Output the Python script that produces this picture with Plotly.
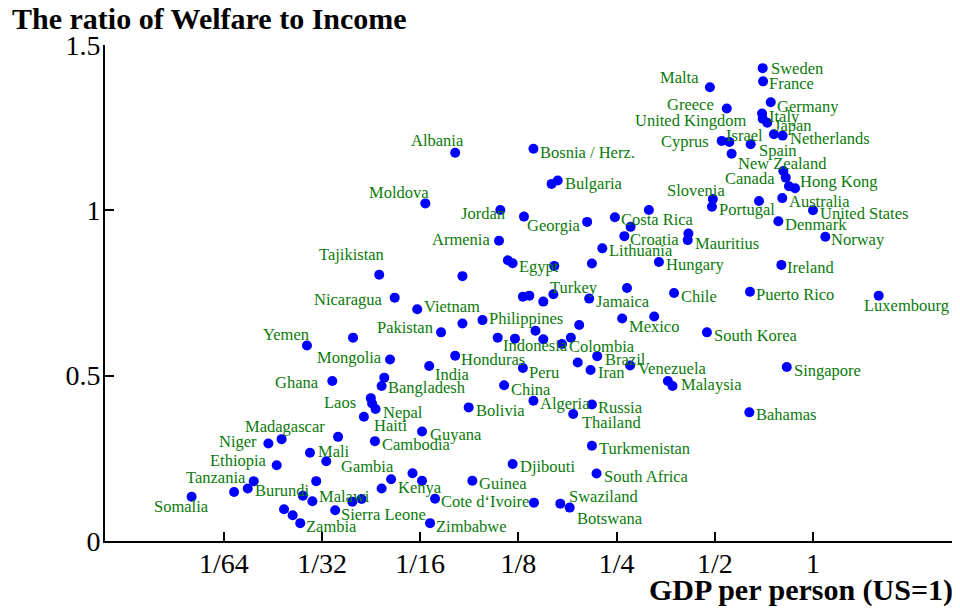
import numpy as np
import plotly.graph_objects as go

# GDP per person relative to US (US = 1), ratio of welfare to income, label ("" = unlabeled)
countries = [
    "Sweden", "France", "Malta", "Greece", "Germany", "Italy", "United Kingdom", "Japan",
    "Israel", "Netherlands", "Cyprus", "", "Spain", "New Zealand", "", "Canada",
    "Hong Kong", "", "Australia", "", "Slovenia", "Portugal", "United States", "Denmark",
    "Norway", "Ireland", "Puerto Rico", "Luxembourg", "South Korea", "Singapore", "Bahamas", "Malaysia",
    "", "Mauritius", "", "Chile", "Hungary", "", "Costa Rica", "",
    "Croatia", "Lithuania", "Georgia", "", "Jordan", "Moldova", "Albania", "Bosnia / Herz.",
    "Bulgaria", "", "Armenia", "", "Egypt", "", "", "Tajikistan",
    "", "Nicaragua", "Vietnam", "", "", "", "Turkey", "Jamaica",
    "", "", "Mexico", "", "Philippines", "", "Pakistan", "",
    "Yemen", "Indonesia", "", "", "", "Colombia", "", "Brazil",
    "", "Iran", "Venezuela", "Peru", "Honduras", "India", "Mongolia", "",
    "Bangladesh", "Ghana", "China", "Algeria", "Russia", "Thailand", "Bolivia", "Laos",
    "", "Nepal", "Haiti", "Guyana", "Cambodia", "", "Madagascar", "Niger",
    "Mali", "Gambia", "Ethiopia", "Turkmenistan", "Djibouti", "South Africa", "Guinea", "Kenya",
    "", "", "", "", "Tanzania", "Burundi", "", "Somalia",
    "", "Malawi", "", "", "Sierra Leone", "", "", "Zambia",
    "Cote d\u2018Ivoire", "", "Swaziland", "Botswana", "Zimbabwe",
]

gdp_per_person = [
    0.701, 0.703, 0.483, 0.544, 0.742, 0.698, 0.701, 0.724,
    0.759, 0.807, 0.525, 0.554, 0.644, 0.563, 0.811, 0.825,
    0.844, 0.881, 0.805, 0.683, 0.493, 0.490, 1.000, 0.783,
    1.091, 0.800, 0.641, 1.590, 0.473, 0.831, 0.638, 0.371,
    0.359, 0.413, 0.415, 0.375, 0.337, 0.314, 0.247, 0.276,
    0.264, 0.226, 0.203, 0.130, 0.110, 0.0648, 0.0800, 0.139,
    0.165, 0.158, 0.109, 0.116, 0.120, 0.161, 0.210, 0.0468,
    0.0842, 0.0522, 0.0612, 0.129, 0.135, 0.149, 0.160, 0.206,
    0.269, 0.260, 0.326, 0.192, 0.0970, 0.0842, 0.0724, 0.0389,
    0.0281, 0.108, 0.122, 0.141, 0.149, 0.170, 0.181, 0.218,
    0.190, 0.208, 0.275, 0.129, 0.0800, 0.0666, 0.0505, 0.0485,
    0.0476, 0.0336, 0.113, 0.139, 0.210, 0.184, 0.0880, 0.0441,
    0.0445, 0.0456, 0.0420, 0.0633, 0.0454, 0.0350, 0.0235, 0.0214,
    0.0287, 0.0322, 0.0227, 0.210, 0.120, 0.217, 0.0903, 0.0509,
    0.0592, 0.0633, 0.0476, 0.0300, 0.0193, 0.0185, 0.0168, 0.01245,
    0.0273, 0.0292, 0.0387, 0.0413, 0.0343, 0.0239, 0.0254, 0.0268,
    0.0694, 0.1395, 0.168, 0.1795, 0.0670,
]

welfare_ratio = [
    1.430, 1.390, 1.372, 1.308, 1.327, 1.293, 1.277, 1.265,
    1.230, 1.226, 1.210, 1.207, 1.200, 1.171, 1.119, 1.099,
    1.073, 1.067, 1.037, 1.028, 1.034, 1.011, 1.000, 0.967,
    0.920, 0.835, 0.754, 0.742, 0.631, 0.526, 0.389, 0.469,
    0.484, 0.910, 0.930, 0.750, 0.844, 1.001, 0.979, 0.950,
    0.922, 0.885, 0.965, 0.981, 1.001, 1.021, 1.174, 1.186,
    1.090, 1.080, 0.908, 0.849, 0.840, 0.832, 0.839, 0.805,
    0.801, 0.736, 0.701, 0.739, 0.742, 0.724, 0.746, 0.733,
    0.765, 0.673, 0.679, 0.653, 0.668, 0.658, 0.631, 0.615,
    0.591, 0.615, 0.612, 0.636, 0.610, 0.596, 0.615, 0.559,
    0.540, 0.517, 0.531, 0.523, 0.560, 0.529, 0.549, 0.494,
    0.469, 0.484, 0.471, 0.424, 0.413, 0.384, 0.404, 0.432,
    0.416, 0.399, 0.376, 0.331, 0.302, 0.315, 0.308, 0.295,
    0.267, 0.241, 0.229, 0.288, 0.233, 0.204, 0.182, 0.187,
    0.205, 0.182, 0.159, 0.181, 0.181, 0.159, 0.148, 0.134,
    0.137, 0.120, 0.119, 0.127, 0.093, 0.096, 0.078, 0.054,
    0.128, 0.116, 0.113, 0.101, 0.054,
]

x_tick_values = [1/64, 1/32, 1/16, 1/8, 1/4, 1/2, 1]
x_tick_labels = ["1/64", "1/32", "1/16", "1/8", "1/4", "1/2", "1"]
y_tick_values = [0, 0.5, 1, 1.5]
y_tick_labels = ["0", "0.5", "1", "1.5"]

# label placement style: (anchor side, x offset px, y offset px downward)
label_style = {
    "Sweden": ("left", 7, 0), "France": ("left", 5, 2), "Malta": ("right", -10, -10),
    "Greece": ("right", -12, -4), "Germany": ("left", 5, 4), "Italy": ("left", 6, 3),
    "United Kingdom": ("right", -15, 2), "Japan": ("left", 6, 3), "Israel": ("right", -10, 1),
    "Netherlands": ("left", 6, 3), "Cyprus": ("right", -12, 1), "Spain": ("left", 7, 6),
    "New Zealand": ("left", 5, 10), "Canada": ("right", -10, 1), "Hong Kong": ("left", 10, -5),
    "Australia": ("left", 6, 3), "Slovenia": ("center", -17, -9), "Portugal": ("left", 6, 3),
    "United States": ("left", 6, 3), "Denmark": ("left", 6, 3), "Norway": ("left", 5, 3),
    "Ireland": ("left", 5, 3), "Puerto Rico": ("left", 5, 3), "Luxembourg": ("center", 28, 10),
    "South Korea": ("left", 6, 3), "Singapore": ("left", 6, 3), "Bahamas": ("left", 6, 2),
    "Malaysia": ("left", 7, -1), "Mauritius": ("left", 6, 3), "Chile": ("left", 6, 3),
    "Hungary": ("left", 6, 3), "Costa Rica": ("left", 5, 2), "Croatia": ("left", 5, 3),
    "Lithuania": ("left", 6, 2), "Georgia": ("right", -5, 4), "Jordan": ("right", 6, 3),
    "Moldova": ("right", 5, -11), "Albania": ("center", -18, -12), "Bosnia / Herz.": ("left", 6, 4),
    "Bulgaria": ("left", 6, 3), "Armenia": ("right", -8, -1), "Egypt": ("left", 5, 3),
    "Tajikistan": ("center", -28, -20), "Nicaragua": ("right", -12, 2), "Vietnam": ("left", 6, -3),
    "Turkey": ("left", -4, -7), "Jamaica": ("left", 6, 3), "Mexico": ("center", 0, 10),
    "Philippines": ("left", 6, -2), "Pakistan": ("right", -7, -5), "Yemen": ("center", -21, -11),
    "Indonesia": ("left", 4, 8), "Colombia": ("left", 6, 3), "Brazil": ("left", 7, 3),
    "Iran": ("left", 6, 2), "Venezuela": ("left", 7, 3), "Peru": ("left", 5, 4),
    "Honduras": ("left", 5, 4), "India": ("left", 5, 8), "Mongolia": ("right", -7, -2),
    "Bangladesh": ("left", 5, 2), "Ghana": ("right", -12, 2), "China": ("left", 6, 4),
    "Algeria": ("left", 6, 3), "Russia": ("left", 5, 3), "Thailand": ("left", 8, 8),
    "Bolivia": ("left", 6, 3), "Laos": ("right", -14, 4), "Nepal": ("left", 6, 3),
    "Haiti": ("left", 9, 9), "Guyana": ("left", 7, 3), "Cambodia": ("left", 6, 3),
    "Madagascar": ("center", 3, -13), "Niger": ("right", -10, -2), "Mali": ("left", 7, -1),
    "Gambia": ("left", 14, 5), "Ethiopia": ("right", -9, -5), "Turkmenistan": ("left", 6, 3),
    "Djibouti": ("left", 6, 3), "South Africa": ("left", 6, 3), "Guinea": ("left", 6, 3),
    "Kenya": ("left", 6, 8), "Tanzania": ("right", -7, -4), "Burundi": ("left", 6, 2),
    "Somalia": ("center", -10, 10), "Malawi": ("left", 6, -5), "Sierra Leone": ("left", 5, 4),
    "Zambia": ("left", 5, 3), "Cote d\u2018Ivoire": ("left", 5, 3), "Swaziland": ("left", 8, -7),
    "Botswana": ("left", 6, 11), "Zimbabwe": ("left", 5, 3),
}

SERIF = "Liberation Serif, Times New Roman, serif"
GREEN = "#0b7a0b"

fig = go.Figure()
fig.add_trace(go.Scatter(
    x=gdp_per_person, y=welfare_ratio,
    mode="markers",
    marker=dict(color="#0000ff", size=10, line=dict(width=0)),
    cliponaxis=False,
    showlegend=False,
    hovertext=countries,
))

annotations = []
for name, g, w in zip(countries, gdp_per_person, welfare_ratio):
    if not name:
        continue
    side, dx, dy = label_style[name]
    annotations.append(dict(
        x=np.log10(g), y=w, xref="x", yref="y",
        text=name, showarrow=False,
        xanchor=side, yanchor="middle",
        xshift=dx, yshift=-dy, borderpad=0,
        font=dict(family=SERIF, size=16.5, color=GREEN),
    ))

# the page body adds an 8 px margin, so the figure is sized to fit the window
W, H = 952, 601
fig.update_layout(
    width=W, height=H,
    margin=dict(l=97, r=5, t=37, b=68),
    paper_bgcolor="white", plot_bgcolor="white",
    font=dict(family=SERIF, color="black"),
    title=dict(
        text="<b>The ratio of Welfare to Income</b>",
        x=4 / W, xanchor="left", xref="container",
        y=1 - 10 / H, yanchor="middle", yref="container",
        font=dict(family=SERIF, size=30, color="black"),
    ),
    xaxis=dict(
        type="log",
        range=[np.log10(2.0 ** -7.21), np.log10(2.0 ** 1.446)],
        tickvals=x_tick_values, ticktext=x_tick_labels,
        ticks="inside", ticklen=9, tickwidth=1.5, tickcolor="black",
        showline=True, linecolor="black", linewidth=1.8,
        showgrid=False, zeroline=False,
        tickfont=dict(family=SERIF, size=28, color="black"),
        ticklabelstandoff=-4,
    ),
    yaxis=dict(
        range=[0, 1.5],
        tickvals=y_tick_values, ticktext=y_tick_labels,
        ticks="inside", ticklen=9, tickwidth=1.5, tickcolor="black",
        showline=True, linecolor="black", linewidth=1.8,
        showgrid=False, zeroline=False,
        tickfont=dict(family=SERIF, size=28, color="black"),
        ticklabelstandoff=-3,
    ),
    annotations=annotations + [dict(
        text="<b>GDP per person (US=1)</b>",
        x=1, xref="paper", xanchor="right",
        y=-49 / 496, yref="paper", yanchor="middle",
        showarrow=False,
        font=dict(family=SERIF, size=30, color="black"),
    )],
)

fig.write_html("out.html")
